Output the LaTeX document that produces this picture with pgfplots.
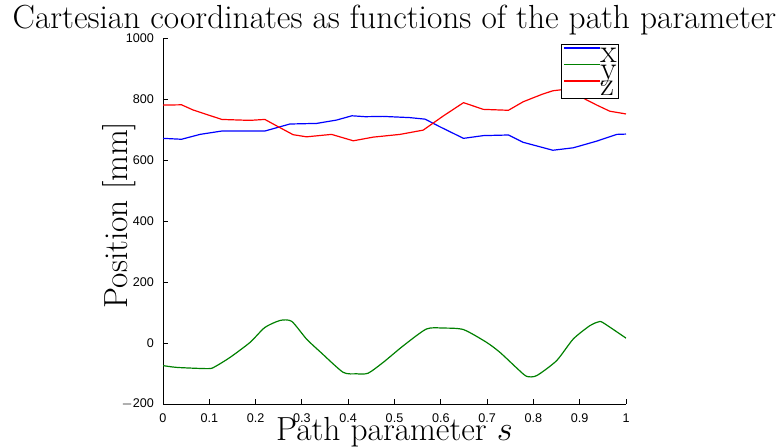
\documentclass[border=0pt]{standalone}
\usepackage{fontspec}
\newfontfamily\helv{Liberation Sans}
\usepackage{pgfplots}
\pgfplotsset{compat=1.18}

\definecolor{mblue}{rgb}{0,0,1}
\definecolor{mgreen}{rgb}{0,0.5,0}
\definecolor{mred}{rgb}{1,0,0}

\newcommand{\bigfont}{\fontsize{16.7}{18}\selectfont}

\pgfplotsset{
  mlegend/.style={
    legend image code/.code={%
      \draw[mark repeat=2,mark phase=2,##1]
        plot coordinates {(4.5pt,3.3pt) (13.5pt,3.3pt) (22.5pt,3.3pt)};%
    }%
  },
}

\begin{document}
\begin{tikzpicture}
\begin{axis}[
  scale only axis, width=231.5pt, height=183pt,
  xmin=0, xmax=1, ymin=-200, ymax=1000,
  xtick={0,0.1,0.2,0.3,0.4,0.5,0.6,0.7,0.8,0.9,1},
  xticklabels={0,0.1,0.2,0.3,0.4,0.5,0.6,0.7,0.8,0.9,1},
  ytick={-200,0,200,400,600,800,1000},
  yticklabels={$-$200,0,200,400,600,800,1000},
  axis x line*=bottom, axis y line*=left,
  axis line style={-, line width=0.5pt, black},
  tick align=inside, major tick length=2.5pt,
  tick style={black, line width=0.5pt},
  ticklabel style={font=\helv\fontsize{6.3}{7}\selectfont},
  xticklabel style={yshift=-1.5pt},
  yticklabel style={xshift=-1pt},
  /pgf/number format/assume math mode=true,
  title={Cartesian coordinates as functions of the path parameter},
  title style={font=\bigfont, at={(0.5,1)}, anchor=base, yshift=-1pt},
  xlabel={Path parameter $s$},
  every axis x label/.style={font=\bigfont, at={(0.5,0)}, anchor=base, yshift=-18pt},
  ylabel={Position [mm]},
  every axis y label/.style={font=\bigfont, at={([xshift=-17.5pt,yshift=3pt]0,0.5)}, rotate=90, anchor=base},
  legend style={at={(1,1)}, anchor=north east, xshift=-3.5pt, yshift=-3pt,
    draw=black, fill=white, font=\bigfont,
    inner xsep=1pt, inner ysep=1pt, row sep=0pt, column sep=0pt,
    nodes={inner sep=0pt, text height=8.25pt, text depth=0pt}},
  legend cell align=left,
  mlegend,
]
\coordinate (bl) at (rel axis cs:0,0);
\coordinate (tr) at (rel axis cs:1,1);

% x coordinate
\addplot[mblue, line width=0.6pt] coordinates {
(0,671) (0.04,668) (0.08,684) (0.127,695) (0.22,695) (0.274,718) (0.332,720)
(0.375,731) (0.408,745) (0.437,742) (0.475,743) (0.533,739) (0.566,734)
(0.598,709) (0.649,671) (0.692,680) (0.746,682) (0.778,658) (0.842,632)
(0.886,640) (0.937,662) (0.98,684) (1,685)
};
\addlegendentry{x}

% y coordinate
\addplot[mgreen, line width=0.6pt, smooth, tension=0.4] coordinates {
(0,-74) (0.03,-80) (0.098,-84) (0.113,-77) (0.145,-47) (0.188,2) (0.22,51)
(0.253,74) (0.278,71) (0.31,13) (0.341,-31) (0.389,-96) (0.418,-101)
(0.443,-99) (0.476,-63) (0.519,-9) (0.569,46) (0.605,49) (0.649,44)
(0.699,2) (0.728,-31) (0.764,-82) (0.785,-109) (0.807,-107) (0.85,-58)
(0.886,13) (0.922,57) (0.94,69) (0.95,67) (1,16)
};
\addlegendentry{y}

% z coordinate
\addplot[mred, line width=0.6pt] coordinates {
(0,780) (0.04,781) (0.065,764) (0.105,744) (0.127,733) (0.166,731) (0.188,730)
(0.22,733) (0.249,709) (0.281,683) (0.31,676) (0.364,684) (0.411,663)
(0.454,675) (0.512,684) (0.562,698) (0.605,744) (0.649,788) (0.692,766)
(0.746,763) (0.778,791) (0.818,815) (0.842,827) (0.87,832) (0.915,797)
(0.937,780) (0.965,760) (1,751)
};
\addlegendentry{z}
\end{axis}
\pgfresetboundingbox
\path ([shift={(-81.5pt,-21pt)}]bl) rectangle ([shift={(77pt,19pt)}]tr);
\end{tikzpicture}
\end{document}
